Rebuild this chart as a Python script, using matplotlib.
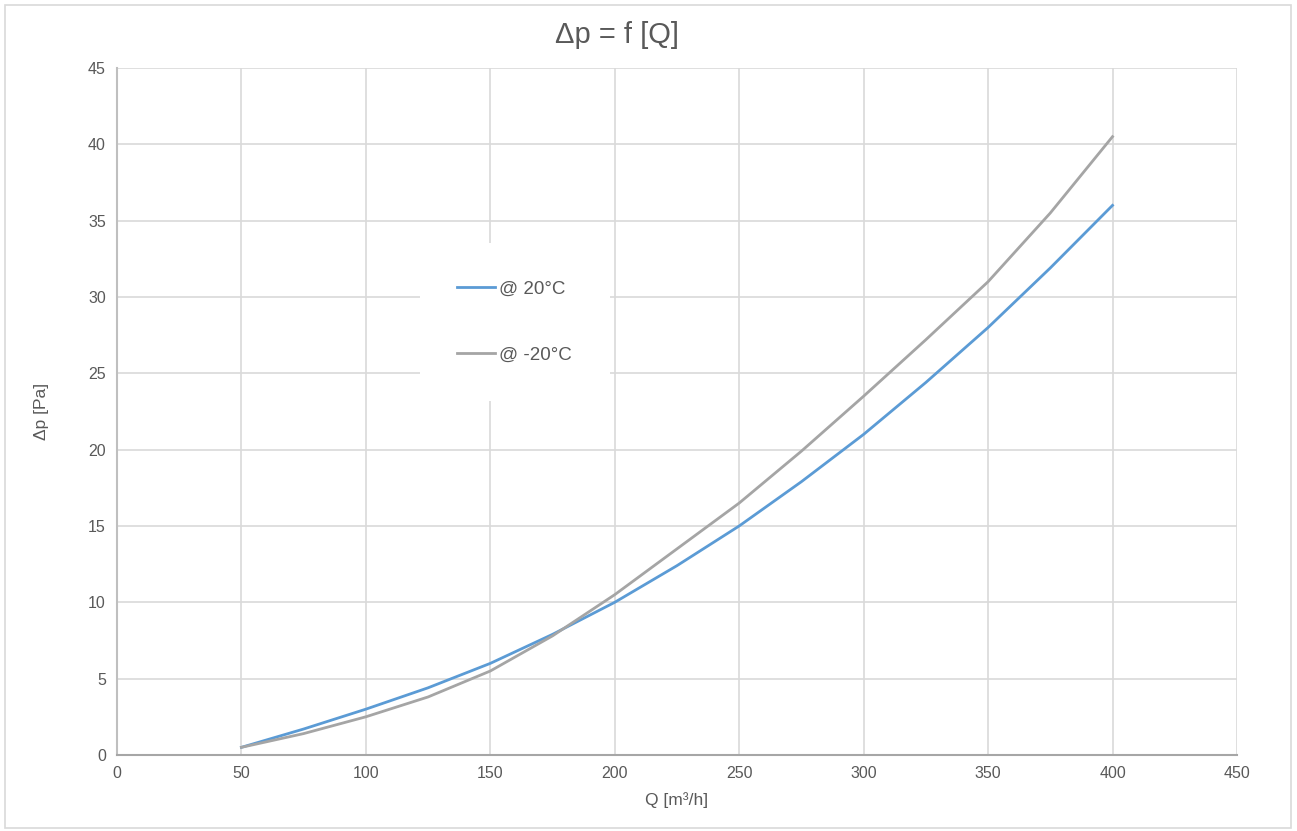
import matplotlib.pyplot as plt
from matplotlib.patches import Rectangle

# values
Q = [50, 75, 100, 125, 150, 175, 200, 225, 250, 275, 300, 325, 350, 375, 400]
dp_20 = [0.5, 1.7, 3.0, 4.4, 6.0, 7.9, 10.0, 12.4, 15.0, 17.9, 21.0, 24.4, 28.0, 31.9, 36.0]
dp_m20 = [0.5, 1.4, 2.5, 3.8, 5.5, 7.8, 10.5, 13.5, 16.5, 19.9, 23.5, 27.2, 31.0, 35.5, 40.5]
labels = ['@ 20°C', '@ -20°C']

plt.rcParams['font.family'] = ['Liberation Sans', 'DejaVu Sans']

TextColor = '#595959'
GridColor = '#D9D9D9'

fig = plt.figure(figsize=(12.97, 8.31), dpi=100)
ax = fig.add_axes([0.0902, 0.0915, 0.8635, 0.8267])

# outer chart frame
fig.patches.append(Rectangle((0.004, 0.004), 0.991, 0.99, transform=fig.transFigure,
                             fill=False, edgecolor='#D9D9D9', linewidth=1.2))

ax.plot(Q, dp_20, color='#5B9BD5', linewidth=2, label=labels[0])
ax.plot(Q, dp_m20, color='#A5A5A5', linewidth=2, label=labels[1])

ax.set_xlim(0, 450)
ax.set_ylim(0, 45)
ax.set_xticks(range(0, 451, 50))
ax.set_yticks(range(0, 46, 5))
ax.grid(True, color=GridColor, linewidth=1.2)
ax.set_axisbelow(True)

for s in ['top', 'right']:
    ax.spines[s].set_visible(False)
ax.spines['left'].set_color('#BFBFBF')
ax.spines['left'].set_linewidth(1.5)
ax.spines['bottom'].set_color('#A6A6A6')
ax.spines['bottom'].set_linewidth(1.5)

ax.tick_params(length=0, labelsize=11.5, colors=TextColor, pad=8)
ax.set_xlabel('Q [m³/h]', fontsize=12.5, color=TextColor, labelpad=8)
ax.set_ylabel('Δp [Pa]', fontsize=12.5, color=TextColor, labelpad=28)
fig.text(0.476, 0.958, 'Δp = f [Q]', fontsize=21, color=TextColor, ha='center', va='center')

leg = ax.legend(loc='center', bbox_to_anchor=(0.355, 0.63), fontsize=13.5,
                frameon=True, facecolor='white', edgecolor='none', framealpha=1,
                borderpad=2.0, labelspacing=2.6, handlelength=2.0, handletextpad=0.25)
for t in leg.get_texts():
    t.set_color(TextColor)

fig.savefig('out.png', dpi=100)
